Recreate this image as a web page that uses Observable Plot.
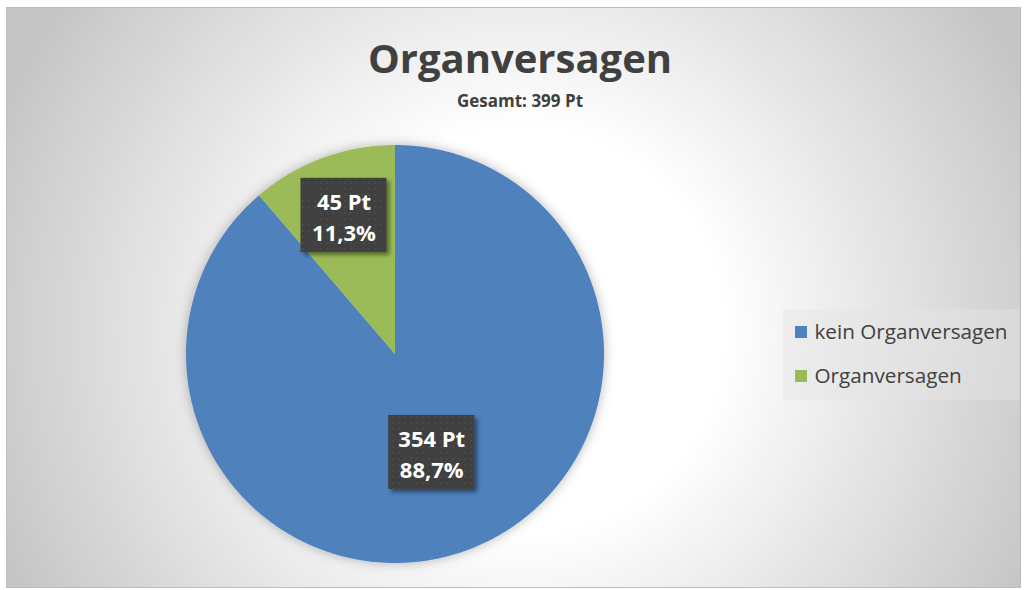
<!DOCTYPE html>
<html>
<head>
<meta charset="utf-8">
<script src="https://cdn.jsdelivr.net/npm/d3@7"></script>
<script src="https://cdn.jsdelivr.net/npm/@observablehq/plot@0.6"></script>
<style>
  html, body { margin: 0; padding: 0; background: #ffffff; }
  #wrap { position: relative; width: 1024px; height: 590px; overflow: hidden; font-family: "Open Sans", "Noto Sans", sans-serif; }
  #frame {
    position: absolute; left: 6px; top: 7px; width: 1013px; height: 579px;
    border: 1px solid #bdbdbd;
    background: radial-gradient(ellipse 560px 560px at 514px 323px, #ffffff 0%, #ffffff 36%, #c6c6c6 100%);
  }
  #chart { position: absolute; left: 0; top: 0; }
  .title { position: absolute; left: 0; width: 1040px; text-align: center; color: #404040; font-weight: 700; white-space: nowrap; }
  #t1 { top: 38px; font-size: 40px; line-height: 40px; }
  #t2 { top: 92px; font-size: 17px; line-height: 17px; }
</style>
</head>
<body>
<div id="wrap">
  <div id="frame"></div>
  <div id="chart"></div>
  <div class="title" id="t1">Organversagen</div>
  <div class="title" id="t2">Gesamt: 399 Pt</div>
</div>
<script>
// ---- data ----
const categories = ["kein Organversagen", "Organversagen"];
const counts = [354, 45];
const percentLabels = ["88,7%", "11,3%"];
const colors = ["#4f81bd", "#9bbb59"];

// ---- layout constants ----
const W = 1024, H = 590;
const cx = 395, cy = 354, R = 209;
const labelRadius = [0.5, 0.71];
const boxW = 86, boxH = 74;
const legendX = 795, legendY = [332, 376], legendSq = 12;

const data = categories.map((c, i) => ({cat: c, count: counts[i], pct: percentLabels[i], i}));
const arcs = d3.pie().sort(null).value(d => d.count)(data);

// slice outer arcs from pie angles; the area closes each one to the centre
const slicePts = [];
arcs.forEach(a => {
  const n = Math.max(4, Math.ceil((a.endAngle - a.startAngle) / (Math.PI / 360)));
  for (let k = 0; k <= n; k++) {
    const t = a.startAngle + (a.endAngle - a.startAngle) * k / n;
    slicePts.push({cat: a.data.cat, x: cx + R * Math.sin(t), y: cy - R * Math.cos(t)});
  }
});

const labels = arcs.map(a => {
  const m = (a.startAngle + a.endAngle) / 2;
  const r = R * labelRadius[a.data.i];
  return {cat: a.data.cat, x: cx + r * Math.sin(m), y: cy - r * Math.cos(m),
          text: `${a.data.count} Pt\n${a.data.pct}`};
});

const legend = data.map(d => ({cat: d.cat, y: legendY[d.i]}));

const plot = Plot.plot({
  width: W, height: H, margin: 0,
  x: {domain: [0, W], range: [0, W], axis: null},
  y: {domain: [0, H], range: [0, H], axis: null},
  color: {domain: categories, range: colors},
  style: {background: "transparent", overflow: "visible"},
  marks: [
    Plot.area(slicePts, {x1: "x", y1: "y", x2: () => cx, y2: () => cy, z: "cat", fill: "cat"}),
    Plot.rect(labels, {x1: d => d.x - boxW / 2, x2: d => d.x + boxW / 2, y1: d => d.y - boxH / 2, y2: d => d.y + boxH / 2,
      fill: "url(#dots)"}),
    Plot.text(labels, {x: "x", y: "y", text: "text", fill: "white", fontSize: 22, fontWeight: 700,
      lineHeight: 1.42, fontFamily: "Open Sans"}),
    Plot.rect([0], {x1: 783, x2: 1020, y1: 309, y2: 400, fill: "#e4e4e4", fillOpacity: 0.45}),
    Plot.rect(legend, {x1: legendX, x2: legendX + legendSq, y1: d => d.y - legendSq / 2, y2: d => d.y + legendSq / 2, fill: "cat"}),
    Plot.text(legend, {x: legendX + legendSq + 7, y: "y", text: "cat", textAnchor: "start", fill: "#404040",
      fontSize: 20.7, fontFamily: "Open Sans"})
  ]
});

const ns = "http://www.w3.org/2000/svg";
const defs = document.createElementNS(ns, "defs");
defs.innerHTML = `
  <pattern id="dots" width="6" height="6" patternUnits="userSpaceOnUse">
    <rect width="6" height="6" fill="#3f3f3f"/>
    <circle cx="3" cy="3" r="1.1" fill="#4b4b4b"/>
  </pattern>
  <filter id="shadow" x="-20%" y="-20%" width="150%" height="150%">
    <feDropShadow dx="3" dy="3" stdDeviation="2.2" flood-color="#000" flood-opacity="0.45"/>
  </filter>
  <filter id="glow" x="-15%" y="-15%" width="130%" height="130%">
    <feDropShadow dx="0" dy="0" stdDeviation="6" flood-color="#000" flood-opacity="0.28"/>
  </filter>`;
plot.prepend(defs);
const areaG = plot.querySelector('g[aria-label="area"]');
if (areaG) areaG.setAttribute("filter", "url(#glow)");
const rects = plot.querySelectorAll('g[aria-label="rect"]');
if (rects.length) rects[0].setAttribute("filter", "url(#shadow)");
document.getElementById("chart").appendChild(plot);
</script>
</body>
</html>
